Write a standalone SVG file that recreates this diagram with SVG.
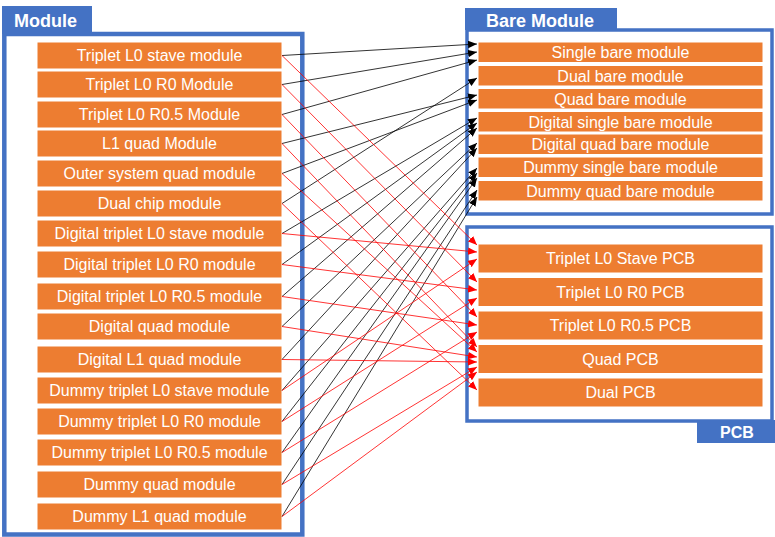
<svg xmlns="http://www.w3.org/2000/svg" width="775" height="537" viewBox="0 0 775 537">
<defs>
<style>
.panel{fill:#fff;stroke:#4472C4}
.tab{fill:#4472C4}
.tabt{font-family:"Liberation Sans",Arial,sans-serif;font-weight:bold;fill:#fff}
.box{fill:#ED7D31;stroke:#fff;stroke-width:1}
.t{font-family:"Liberation Sans",Arial,sans-serif;font-size:16px;fill:#fff;text-anchor:middle}
.bl{stroke:#000;stroke-width:0.8;fill:none;marker-end:url(#ab)}
.rd{stroke:#FF0000;stroke-width:0.8;fill:none;marker-end:url(#ar)}
</style>
<marker id="ab" markerUnits="userSpaceOnUse" markerWidth="10" markerHeight="8" refX="9" refY="3.75" orient="auto"><path d="M0,0 L9,3.75 L0,7.5 z" fill="#000"/></marker>
<marker id="ar" markerUnits="userSpaceOnUse" markerWidth="10" markerHeight="8" refX="9" refY="3.75" orient="auto"><path d="M0,0 L9,3.75 L0,7.5 z" fill="#FF0000"/></marker>
</defs>

<g id="panel-module">
<rect class="panel" x="4.3" y="34" width="298" height="500.5" stroke-width="4.5"/>
<rect class="tab" x="2" y="6" width="90" height="28"/>
<text class="tabt" x="14" y="27" font-size="18">Module</text>
</g>

<g id="panel-bare">
<rect class="panel" x="467" y="30" width="305" height="184" stroke-width="3.5"/>
<rect class="tab" x="465" y="8" width="152" height="22"/>
<text class="tabt" x="486" y="27" font-size="18">Bare Module</text>
</g>

<g id="panel-pcb">
<rect class="panel" x="467" y="227" width="305" height="194" stroke-width="3.5"/>
<rect class="tab" x="697" y="420" width="78" height="23"/>
<text class="tabt" x="737" y="438" font-size="16" text-anchor="middle">PCB</text>
</g>

<g id="m1"><rect class="box" x="37" y="42" width="245" height="27"/><text class="t" x="159.5" y="61">Triplet L0 stave module</text></g>
<g id="m2"><rect class="box" x="37" y="71" width="245" height="27"/><text class="t" x="159.5" y="90">Triplet L0 R0 Module</text></g>
<g id="m3"><rect class="box" x="37" y="101" width="245" height="27"/><text class="t" x="159.5" y="120">Triplet L0 R0.5 Module</text></g>
<g id="m4"><rect class="box" x="37" y="130" width="245" height="27"/><text class="t" x="159.5" y="149">L1 quad Module</text></g>
<g id="m5"><rect class="box" x="37" y="160" width="245" height="27"/><text class="t" x="159.5" y="179">Outer system quad module</text></g>
<g id="m6"><rect class="box" x="37" y="190" width="245" height="27"/><text class="t" x="159.5" y="209">Dual chip module</text></g>
<g id="m7"><rect class="box" x="37" y="220" width="245" height="27"/><text class="t" x="159.5" y="239">Digital triplet L0 stave module</text></g>
<g id="m8"><rect class="box" x="37" y="251" width="245" height="27"/><text class="t" x="159.5" y="270">Digital triplet L0 R0 module</text></g>
<g id="m9"><rect class="box" x="37" y="283" width="245" height="27"/><text class="t" x="159.5" y="302">Digital triplet L0 R0.5 module</text></g>
<g id="m10"><rect class="box" x="37" y="313" width="245" height="27"/><text class="t" x="159.5" y="332">Digital quad module</text></g>
<g id="m11"><rect class="box" x="37" y="346" width="245" height="27"/><text class="t" x="159.5" y="365">Digital L1 quad module</text></g>
<g id="m12"><rect class="box" x="37" y="377" width="245" height="27"/><text class="t" x="159.5" y="396">Dummy triplet L0 stave module</text></g>
<g id="m13"><rect class="box" x="37" y="408" width="245" height="27"/><text class="t" x="159.5" y="427">Dummy triplet L0 R0 module</text></g>
<g id="m14"><rect class="box" x="37" y="439" width="245" height="27"/><text class="t" x="159.5" y="458">Dummy triplet L0 R0.5 module</text></g>
<g id="m15"><rect class="box" x="37" y="471" width="245" height="27"/><text class="t" x="159.5" y="490">Dummy quad module</text></g>
<g id="m16"><rect class="box" x="37" y="503" width="245" height="27"/><text class="t" x="159.5" y="522">Dummy L1 quad module</text></g>

<g id="b1"><rect class="box" x="478" y="42" width="285" height="20.5"/><text class="t" x="620.5" y="58">Single bare module</text></g>
<g id="b2"><rect class="box" x="478" y="65.5" width="285" height="20.5"/><text class="t" x="620.5" y="81.5">Dual bare module</text></g>
<g id="b3"><rect class="box" x="478" y="88.5" width="285" height="20.5"/><text class="t" x="620.5" y="104.5">Quad bare module</text></g>
<g id="b4"><rect class="box" x="478" y="111.5" width="285" height="20.5"/><text class="t" x="620.5" y="127.5">Digital single bare module</text></g>
<g id="b5"><rect class="box" x="478" y="134" width="285" height="20.5"/><text class="t" x="620.5" y="150">Digital quad bare module</text></g>
<g id="b6"><rect class="box" x="478" y="157" width="285" height="20.5"/><text class="t" x="620.5" y="173">Dummy single bare module</text></g>
<g id="b7"><rect class="box" x="478" y="180.5" width="285" height="20.5"/><text class="t" x="620.5" y="196.5">Dummy quad bare module</text></g>

<g id="p1"><rect class="box" x="478" y="244" width="285" height="29"/><text class="t" x="620.5" y="264">Triplet L0 Stave PCB</text></g>
<g id="p2"><rect class="box" x="478" y="277.5" width="285" height="29"/><text class="t" x="620.5" y="297.5">Triplet L0 R0 PCB</text></g>
<g id="p3"><rect class="box" x="478" y="311" width="285" height="29"/><text class="t" x="620.5" y="331">Triplet L0 R0.5 PCB</text></g>
<g id="p4"><rect class="box" x="478" y="344.5" width="285" height="29"/><text class="t" x="620.5" y="364.5">Quad PCB</text></g>
<g id="p5"><rect class="box" x="478" y="378" width="285" height="29"/><text class="t" x="620.5" y="398">Dual PCB</text></g>

<g id="connectors">
<line class="bl" x1="282" y1="55.5" x2="477" y2="44"/>
<line class="bl" x1="282" y1="84.5" x2="477" y2="52"/>
<line class="bl" x1="282" y1="114.5" x2="477" y2="60"/>
<line class="bl" x1="282" y1="143.5" x2="477" y2="95"/>
<line class="bl" x1="282" y1="173.5" x2="477" y2="100"/>
<line class="bl" x1="282" y1="203.5" x2="477" y2="78"/>
<line class="bl" x1="282" y1="233.5" x2="477" y2="118"/>
<line class="bl" x1="282" y1="264.5" x2="477" y2="123"/>
<line class="bl" x1="282" y1="296.5" x2="477" y2="128"/>
<line class="bl" x1="282" y1="326.5" x2="477" y2="143"/>
<line class="bl" x1="282" y1="359.5" x2="477" y2="148"/>
<line class="bl" x1="282" y1="390.5" x2="477" y2="168"/>
<line class="bl" x1="282" y1="421.5" x2="477" y2="173"/>
<line class="bl" x1="282" y1="452.5" x2="477" y2="178"/>
<line class="bl" x1="282" y1="484.5" x2="477" y2="190"/>
<line class="bl" x1="282" y1="516.5" x2="477" y2="197"/>

<line class="rd" x1="282" y1="55.5" x2="477" y2="245"/>
<line class="rd" x1="282" y1="233.5" x2="477" y2="252"/>
<line class="rd" x1="282" y1="390.5" x2="477" y2="259"/>
<line class="rd" x1="282" y1="84.5" x2="477" y2="282"/>
<line class="rd" x1="282" y1="264.5" x2="477" y2="290"/>
<line class="rd" x1="282" y1="421.5" x2="477" y2="298"/>
<line class="rd" x1="282" y1="114.5" x2="477" y2="317"/>
<line class="rd" x1="282" y1="296.5" x2="477" y2="325"/>
<line class="rd" x1="282" y1="452.5" x2="477" y2="332"/>
<line class="rd" x1="282" y1="143.5" x2="477" y2="347"/>
<line class="rd" x1="282" y1="173.5" x2="477" y2="352"/>
<line class="rd" x1="282" y1="326.5" x2="477" y2="357"/>
<line class="rd" x1="282" y1="359.5" x2="477" y2="362"/>
<line class="rd" x1="282" y1="484.5" x2="477" y2="367"/>
<line class="rd" x1="282" y1="516.5" x2="477" y2="372"/>
<line class="rd" x1="282" y1="203.5" x2="477" y2="390"/>
</g>
</svg>
